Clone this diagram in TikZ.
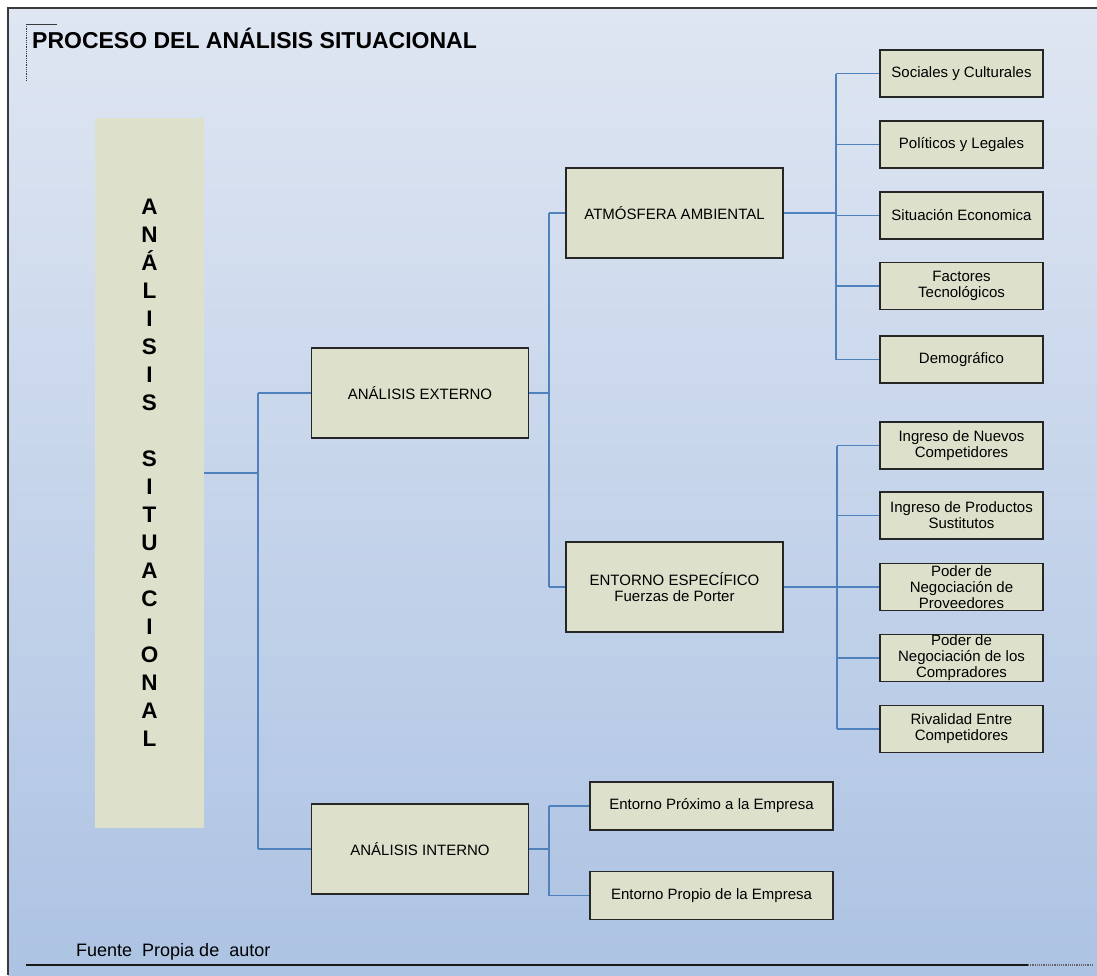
\documentclass[tikz,border=0pt]{standalone}
\usepackage{fontspec}
\setmainfont{Liberation Sans}
\definecolor{boxfill}{HTML}{DDE1CB}
\definecolor{linkblue}{HTML}{4F81BD}
\definecolor{bgtop}{HTML}{DFE6F2}
\definecolor{bgbottom}{HTML}{ADC3E3}
\definecolor{framegray}{HTML}{3A3A3A}
\tikzset{
  boxbase/.style={draw=black!85, line width=1.1pt, fill=boxfill, inner sep=0pt, align=center,
    font=\fontsize{15}{16}\selectfont},
  stage/.style={boxbase, minimum width=217pt, minimum height=90pt},
  factor/.style={boxbase, minimum width=163pt, minimum height=47pt},
  inner/.style={boxbase, minimum width=243pt, minimum height=48pt},
  column/.style={fill=boxfill, inner sep=0pt, minimum width=109pt, minimum height=710pt,
    align=center, font=\bfseries\fontsize{22.5}{28}\selectfont},
  link/.style={draw=linkblue, line width=1.3pt},
  stub/.style={draw=linkblue, line width=2.2pt},
}
\begin{document}
\begin{tikzpicture}[x=1pt, y=-1pt]
  % page and frame
  \fill[white] (0,0) rectangle (1097,975);
  \useasboundingbox (0,0) rectangle (1097,975);
  \shade[top color=bgtop, bottom color=bgbottom] (8,8) rectangle (1097,975);
  \draw[framegray, line width=1.5pt] (8,975) -- (8,8) -- (1097,8);

  % title with corner mark
  \draw[framegray, line width=0.8pt] (57,24) -- (26,24);
  \draw[framegray, line width=0.8pt, densely dotted] (26,24) -- (26,81);
  \node[anchor=base west, inner sep=0pt, font=\bfseries\fontsize{23}{26}\selectfont] (title) at (32,48)
    {PROCESO DEL ANÁLISIS SITUACIONAL};

  % vertical title column
  \node[column] (col) at (149.5,473)
    {A\\N\\Á\\L\\I\\S\\I\\S\\[28pt]S\\I\\T\\U\\A\\C\\I\\O\\N\\A\\L};

  % second level
  \node[stage] (ae) at (420,393) {ANÁLISIS EXTERNO};
  \node[stage] (ai) at (420,849) {ANÁLISIS INTERNO};

  % third level
  \node[stage] (aa) at (674.5,213) {ATMÓSFERA AMBIENTAL};
  \node[stage] (ee) at (674.5,587) {ENTORNO ESPECÍFICO\\Fuerzas de Porter};
  \node[inner] (ep) at (711.5,806) {Entorno Próximo a la Empresa};
  \node[inner] (eo) at (711.5,895.5) {Entorno Propio de la Empresa};

  % environmental factors
  \node[factor] (f1) at (961.5,73.5) {Sociales y Culturales};
  \node[factor] (f2) at (961.5,144.5) {Políticos y Legales};
  \node[factor] (f3) at (961.5,215.5) {Situación Economica};
  \node[factor] (f4) at (961.5,286) {Factores\\Tecnológicos};
  \node[factor] (f5) at (961.5,359.5) {Demográfico};

  % Porter forces
  \node[factor] (p1) at (961.5,445.5) {Ingreso de Nuevos\\Competidores};
  \node[factor] (p2) at (961.5,515.5) {Ingreso de Productos\\Sustitutos};
  \node[factor] (p3) at (961.5,587) {Poder de\\Negociación de\\Proveedores};
  \node[factor] (p4) at (961.5,658) {Poder de\\Negociación de los\\Compradores};
  \node[factor] (p5) at (961.5,729) {Rivalidad Entre\\Competidores};

  % junction points
  \coordinate (ja) at (258,393);
  \coordinate (jb) at (258,849);
  \coordinate (jc) at (549,213);
  \coordinate (jd) at (549,587);
  \coordinate (je) at (836,73.5);
  \coordinate (jf) at (836,359.5);
  \coordinate (jg) at (837,445.5);
  \coordinate (jh) at (837,729);
  \coordinate (ji) at (549,806);
  \coordinate (jj) at (549,895.5);

  % connectors from the column
  \draw[link] (col.east) -- (col.east -| ja);
  \draw[link] (ja) -- (jb);
  \draw[link] (ja) -- (ae.west);
  \draw[link] (jb) -- (ai.west);

  % external analysis
  \draw[stub] (ae.east) -- (ae.east -| jc);
  \draw[link] (jc) -- (jd);
  \draw[link] (jc) -- (aa.west);
  \draw[link] (jd) -- (ee.west);

  % environment factors
  \draw[stub] (aa.east) -- (aa.east -| je);
  \draw[link] (je) -- (jf);
  \foreach \f in {f1,f2,f3,f4,f5} \draw[link] (\f.west -| je) -- (\f.west);

  % Porter forces
  \draw[stub] (ee.east) -- (ee.east -| jg);
  \draw[link] (jg) -- (jh);
  \foreach \f in {p1,p2,p3,p4,p5} \draw[link] (\f.west -| jg) -- (\f.west);

  % internal analysis
  \draw[stub] (ai.east) -- (ai.east -| ji);
  \draw[link] (ji) -- (jj);
  \draw[link] (ji) -- (ep.west);
  \draw[link] (jj) -- (eo.west);

  % source note and rule
  \node[anchor=base west, inner sep=0pt, font=\fontsize{18}{20}\selectfont] (src) at (76,956)
    {Fuente\hspace{5pt} Propia de\hspace{5pt} autor};
  \coordinate (r1) at (26,965);
  \coordinate (r2) at (1028,965);
  \coordinate (r3) at (1092,965);
  \draw[black!90, line width=1.2pt] (r1) -- (r2);
  \draw[black!60, line width=1.2pt, densely dotted] (r2) -- (r3);
\end{tikzpicture}
\end{document}
